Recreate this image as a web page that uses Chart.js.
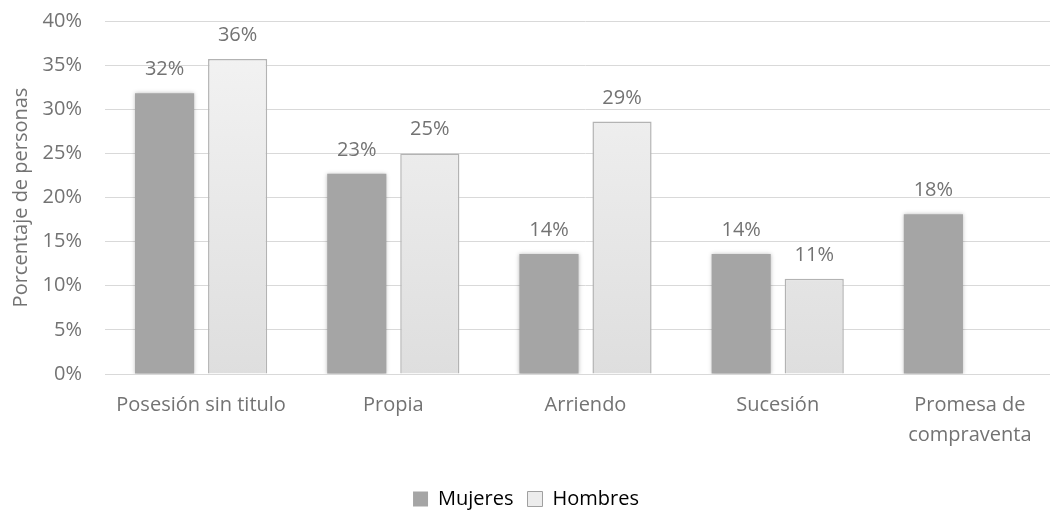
<!DOCTYPE html>
<html>
<head>
<meta charset="utf-8">
<script src="https://cdn.jsdelivr.net/npm/chart.js@4/dist/chart.umd.min.js"></script>
<style>
  html, body { margin: 0; padding: 0; background: #fff; overflow: hidden; }
  #wrap { width: 1066px; height: 514px; }
</style>
</head>
<body>
<div id="wrap"><canvas id="tenencia" width="1066" height="514"></canvas></div>
<script>
const categorias = [
  "Posesión sin titulo",
  "Propia",
  "Arriendo",
  "Sucesión",
  ["Promesa de", "compraventa"],
];
const mujeres = [31.8, 22.7, 13.6, 13.6, 18.1];
const hombres = [35.7, 25.0, 28.6, 10.8, null];
const ticksY = [0, 5, 10, 15, 20, 25, 30, 35, 40];

const FONT = "'Open Sans', 'Noto Sans', sans-serif";
const TEXT = "#737373";
const GRID = "#d9d9d9";

// light vertical gradient for the Hombres bars
function hombresFill(context) {
  const { chart } = context;
  const area = chart.chartArea;
  if (!area) return "#ebebeb";
  const g = chart.ctx.createLinearGradient(0, area.top, 0, area.bottom);
  g.addColorStop(0, "#f4f4f4");
  g.addColorStop(1, "#dedede");
  return g;
}

// value labels above every bar
const etiquetas = {
  id: "etiquetas",
  afterDatasetsDraw(chart) {
    const ctx = chart.ctx;
    ctx.save();
    ctx.font = "20px " + FONT;
    ctx.fillStyle = TEXT;
    ctx.textAlign = "center";
    ctx.textBaseline = "alphabetic";
    chart.data.datasets.forEach((ds, i) => {
      chart.getDatasetMeta(i).data.forEach((bar, j) => {
        const v = ds.data[j];
        if (v === null || v === undefined) return;
        ctx.fillText(Math.round(v) + "%", bar.x, bar.y - 18);
      });
    });
    ctx.restore();
  },
};

// soft shadow behind the dark bars
const sombra = {
  id: "sombra",
  beforeDatasetDraw(chart, args) {
    if (args.index !== 0) return;
    const ctx = chart.ctx;
    ctx.save();
    ctx.shadowColor = "rgba(0,0,0,0.25)";
    ctx.shadowBlur = 4;
  },
  afterDatasetDraw(chart, args) {
    if (args.index !== 0) return;
    chart.ctx.restore();
  },
};

// keep the legend centred on the visible 1050px width, a bit lower
const centrarLeyenda = {
  id: "centrarLeyenda",
  afterLayout(chart) {
    if (!chart.legend) return;
    chart.legend.right -= 14;
    chart.legend.top += 5;
  },
};

new Chart(document.getElementById("tenencia").getContext("2d"), {
  type: "bar",
  data: {
    labels: categorias,
    datasets: [
      {
        label: "Mujeres",
        data: mujeres,
        backgroundColor: "#a5a5a5",
        borderWidth: 0,
      },
      {
        label: "Hombres",
        data: hombres,
        backgroundColor: hombresFill,
        borderColor: "#b3b3b3",
        borderWidth: 1.5,
      },
    ],
  },
  options: {
    responsive: false,
    animation: false,
    devicePixelRatio: 1,
    categoryPercentage: 0.76,
    barPercentage: 0.81,
    layout: { padding: { top: 21, right: 0, bottom: 0, left: 0 } },
    plugins: {
      tooltip: { enabled: false },
      legend: {
        position: "bottom",
        labels: {
          font: { family: FONT, size: 20 },
          color: TEXT,
          boxWidth: 15,
          boxHeight: 15,
          padding: 14,
          generateLabels() {
            return [
              { text: "Mujeres", fillStyle: "#a5a5a5", strokeStyle: "#a5a5a5", lineWidth: 0, datasetIndex: 0 },
              { text: "Hombres", fillStyle: "#ececec", strokeStyle: "#a0a0a0", lineWidth: 1, datasetIndex: 1 },
            ];
          },
        },
      },
    },
    scales: {
      x: {
        grid: { display: false, drawTicks: false },
        border: { display: true, color: GRID, width: 1 },
        ticks: {
          font: { family: FONT, size: 20, lineHeight: 1.5 },
          color: TEXT,
          padding: 16,
          maxRotation: 0,
        },
        afterFit(axis) { axis.height = 96; },
      },
      y: {
        min: 0,
        max: 40,
        afterBuildTicks(axis) { axis.ticks = ticksY.map((v) => ({ value: v })); },
        grid: { color: GRID, lineWidth: 1, drawTicks: false },
        border: { display: false },
        ticks: {
          font: { family: FONT, size: 20 },
          color: TEXT,
          padding: 23,
          callback: (v) => v + "%",
        },
        title: {
          display: true,
          text: "Porcentaje de personas",
          font: { family: FONT, size: 20 },
          color: TEXT,
          padding: { top: 9, bottom: 0 },
        },
        afterFit(axis) {
          axis.width = 105;
          axis.paddingTop = 0;
          axis.paddingBottom = 0;
        },
      },
    },
  },
  plugins: [sombra, etiquetas, centrarLeyenda],
});
</script>
</body>
</html>
